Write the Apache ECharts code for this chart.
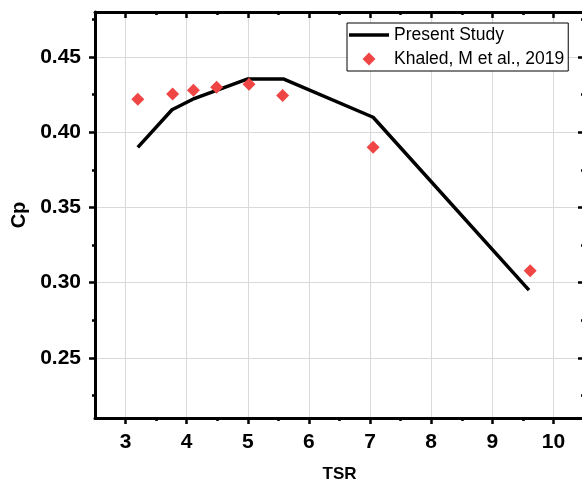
<!DOCTYPE html>
<html>
<head>
<meta charset="utf-8">
<script src="https://cdn.jsdelivr.net/npm/echarts@6/dist/echarts.min.js"></script>
<style>
  html, body { margin: 0; padding: 0; background: #fff; }
  #chart { width: 582px; height: 482px; }
</style>
</head>
<body>
<div id="chart"></div>
<script>
// Present Study (line)
const tsrStudy = [3.2, 3.76, 4.1, 4.5, 5.0, 5.58, 7.05, 9.6]
const cpStudy = [0.390, 0.415, 0.422, 0.428, 0.4355, 0.4355, 0.410, 0.295]
// Khaled, M et al., 2019 (diamonds)
const tsrKhaled = [3.2, 3.77, 4.11, 4.49, 5.02, 5.57, 7.05, 9.62]
const cpKhaled = [0.422, 0.4255, 0.428, 0.430, 0.432, 0.4245, 0.390, 0.308]

const xMajor = [3, 4, 5, 6, 7, 8, 9, 10]
const xMinor = [3.5, 4.5, 5.5, 6.5, 7.5, 8.5, 9.5]
const yMajor = [0.25, 0.30, 0.35, 0.40, 0.45]
const yMinor = [0.225, 0.275, 0.325, 0.375, 0.425, 0.475]

const font = "'Liberation Sans', Arial, sans-serif"
const X_MIN = 2.5, X_MAX = 10.5, Y_MIN = 0.21, Y_MAX = 0.48

function xAx(pos, ticks, len, inside, extra) {
  return Object.assign({
    type: 'value', position: pos, min: X_MIN, max: X_MAX,
    axisLine: { show: false },
    axisTick: { show: true, customValues: ticks, length: len, inside: inside,
      lineStyle: { color: '#000', width: 2.5 } },
    axisLabel: { show: false },
    splitLine: { show: false }
  }, extra || {})
}

function yAx(pos, ticks, len, inside, extra) {
  return Object.assign({
    type: 'value', position: pos, min: Y_MIN, max: Y_MAX,
    axisLine: { show: false },
    axisTick: { show: true, customValues: ticks, length: len, inside: inside,
      lineStyle: { color: '#000', width: 2.5 } },
    axisLabel: { show: false },
    splitLine: { show: false }
  }, extra || {})
}

const chart = echarts.init(document.getElementById('chart'))

chart.setOption({
  animation: false,
  backgroundColor: '#fff',
  grid: { left: 95, top: 12, width: 489, height: 406, outerBoundsMode: 'none', containLabel: false },
  legend: {
    orient: 'vertical',
    left: 347,
    top: 23,
    padding: [3, 4, 3, 2],
    itemGap: 6,
    itemWidth: 40,
    itemHeight: 13,
    symbolKeepAspect: true,
    borderColor: '#000',
    borderWidth: 1,
    backgroundColor: '#fff',
    textStyle: { fontFamily: font, fontSize: 17.5, color: '#000' },
    data: [
      { name: 'Present Study', icon: 'path://M0,0 L40,0 L40,3.6 L0,3.6 Z', itemStyle: { color: '#000' } },
      { name: 'Khaled, M et al., 2019', icon: 'path://M6.5,0 L13,6.5 L6.5,13 L0,6.5 Z', itemStyle: { color: '#f04545' } }
    ]
  },
  xAxis: [
    xAx('bottom', xMajor, 6, false, {
      axisLine: { show: true, lineStyle: { color: '#000', width: 3 } },
      axisLabel: { show: true, customValues: xMajor, margin: 14,
        fontFamily: font, fontSize: 21, fontWeight: 'bold', color: '#000' },
      splitLine: { show: true, lineStyle: { color: '#d9d9d9', width: 1 } },
      name: 'TSR', nameLocation: 'middle', nameGap: 48,
      nameTextStyle: { fontFamily: font, fontSize: 17, fontWeight: 'bold', color: '#000' }
    }),
    xAx('bottom', xMinor, 3, false),
    xAx('top', xMajor, 6, true, {
      axisLine: { show: true, lineStyle: { color: '#000', width: 3 } }
    }),
    xAx('top', xMinor, 3, true)
  ],
  yAxis: [
    yAx('left', yMajor, 6, false, {
      axisLine: { show: true, lineStyle: { color: '#000', width: 3 } },
      axisLabel: { show: true, customValues: yMajor, margin: 14,
        fontFamily: font, fontSize: 21, fontWeight: 'bold', color: '#000',
        formatter: v => v.toFixed(2) },
      splitLine: { show: true, lineStyle: { color: '#d9d9d9', width: 1 } },
      name: 'Cp', nameLocation: 'middle', nameGap: 64, nameRotate: 90,
      nameTextStyle: { fontFamily: font, fontSize: 20, fontWeight: 'bold', color: '#000' }
    }),
    yAx('left', yMinor, 3, false),
    yAx('right', yMajor, 6, true, {
      axisLine: { show: true, lineStyle: { color: '#000', width: 3 } }
    }),
    yAx('right', yMinor, 3, true)
  ],
  series: [
    {
      name: 'Present Study',
      type: 'line',
      xAxisIndex: 0,
      yAxisIndex: 0,
      symbol: 'none',
      lineStyle: { color: '#000', width: 3.5 },
      itemStyle: { color: '#000' },
      data: tsrStudy.map((x, i) => [x, cpStudy[i]]),
      z: 3
    },
    {
      name: 'Khaled, M et al., 2019',
      type: 'scatter',
      xAxisIndex: 0,
      yAxisIndex: 0,
      symbol: 'diamond',
      symbolSize: 13,
      symbolKeepAspect: true,
      itemStyle: { color: '#f04545', opacity: 1 },
      data: tsrKhaled.map((x, i) => [x, cpKhaled[i]]),
      z: 4
    }
  ]
})
</script>
</body>
</html>
